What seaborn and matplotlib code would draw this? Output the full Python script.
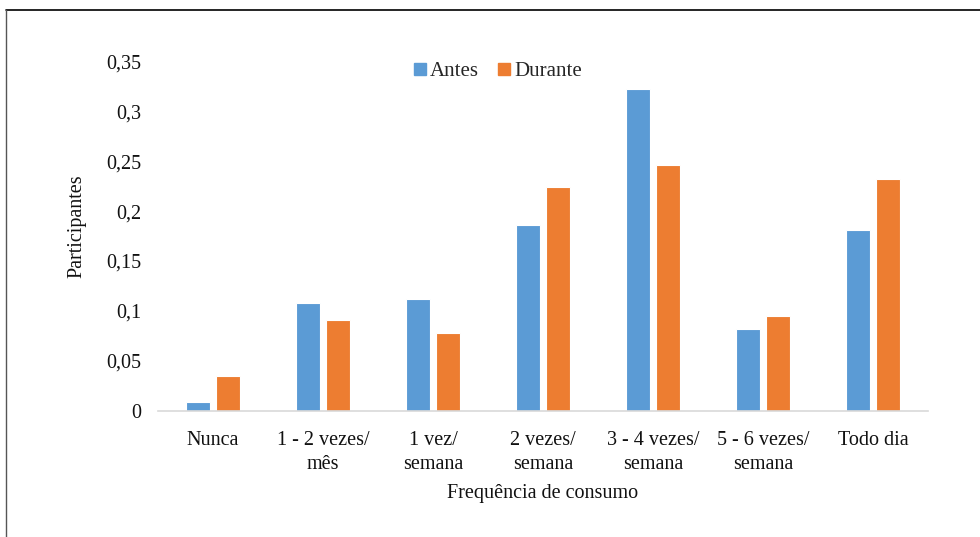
import matplotlib
matplotlib.use("Agg")
import matplotlib.pyplot as plt
from matplotlib.lines import Line2D
import seaborn as sns
import pandas as pd

# Consumption frequency categories and share of participants per period
categorias = ["Nunca", "1 - 2 vezes/\nmês", "1 vez/\nsemana", "2 vezes/\nsemana",
              "3 - 4 vezes/\nsemana", "5 - 6 vezes/\nsemana", "Todo dia"]
antes = [0.009, 0.108, 0.112, 0.186, 0.323, 0.082, 0.181]
durante = [0.035, 0.091, 0.078, 0.224, 0.246, 0.095, 0.232]
periodos = ["Antes", "Durante"]
yticks = [0, 0.05, 0.1, 0.15, 0.2, 0.25, 0.3, 0.35]
ytick_labels = ["0", "0,05", "0,1", "0,15", "0,2", "0,25", "0,3", "0,35"]

cores = ["#5B9BD5", "#ED7D31"]

df = pd.DataFrame({
    "categoria": categorias * 2,
    "valor": antes + durante,
    "periodo": [periodos[0]] * len(antes) + [periodos[1]] * len(durante),
})

sns.set_style("white")
plt.rcParams["font.family"] = ["Liberation Serif", "DejaVu Serif"]

fig = plt.figure(figsize=(9.8, 5.37), dpi=100)
ax = fig.add_axes([158 / 980, 1 - 410.5 / 537, (928 - 158) / 980, (410.5 - 61.7) / 537])

sns.barplot(data=df, x="categoria", y="valor", hue="periodo", order=categorias,
            hue_order=periodos, palette=cores, saturation=1, width=0.56, gap=0.22,
            edgecolor="white", linewidth=0.8, errorbar=None, legend=False, ax=ax)

ax.set_xlim(-0.5, len(categorias) - 0.5)
ax.set_ylim(0, 0.35)
ax.set_yticks(yticks)
ax.set_yticklabels(ytick_labels, fontsize=14.5, color="#111111")
ax.set_xticks(range(len(categorias)))
ax.set_xticklabels(categorias, fontsize=14.5, color="#111111", linespacing=1.35)
ax.tick_params(axis="x", length=0, pad=15)
ax.tick_params(axis="y", length=0, pad=12)

for side in ["top", "right", "left"]:
    ax.spines[side].set_visible(False)
ax.spines["bottom"].set_color("#d9d9d9")
ax.spines["bottom"].set_linewidth(1.2)
ax.grid(False)

ax.set_xlabel("Frequência de consumo", fontsize=14.5, color="#111111", labelpad=7)
ax.set_ylabel("Participantes", fontsize=14.5, color="#111111")
ax.yaxis.set_label_coords((86 - 158) / 770, (410.5 - 226) / 348.8)

handles = [Line2D([], [], marker="s", linestyle="", markersize=9, color=c) for c in cores]
fig.legend(handles, periodos, loc="center", bbox_to_anchor=(497 / 980, 1 - 71 / 537),
           ncol=2, frameon=False, fontsize=15, handletextpad=0.1, columnspacing=0.8,
           handlelength=0.8)

# Outer frame: top and left edges
fig.add_artist(Line2D([6 / 980, 1], [1 - 10 / 537, 1 - 10 / 537], color="black", linewidth=1.2))
fig.add_artist(Line2D([6 / 980, 6 / 980], [0, 1 - 10 / 537], color="#555555", linewidth=1.0))

fig.savefig("out.png", dpi=100)
